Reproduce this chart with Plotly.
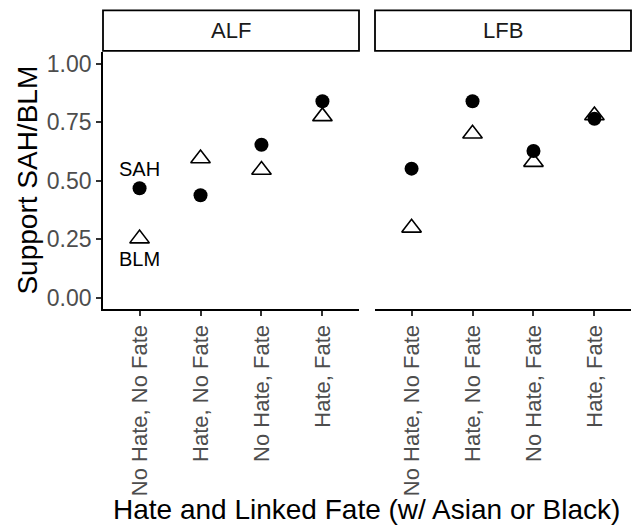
import plotly.graph_objects as go

categories = ["No Hate, No Fate", "Hate, No Fate", "No Hate, Fate", "Hate, Fate"]
panels = ["ALF", "LFB"]
sah_alf = [0.467, 0.437, 0.653, 0.839]
blm_alf = [0.252, 0.594, 0.545, 0.774]
sah_lfb = [0.551, 0.839, 0.626, 0.764]
blm_lfb = [0.298, 0.700, 0.579, 0.778]
y_ticks = [0.0, 0.25, 0.5, 0.75, 1.0]
y_ticklabels = ["0.00", "0.25", "0.50", "0.75", "1.00"]

W, H = 638, 528
FONT = "Liberation Sans, Arial, sans-serif"

def px_x(v):
    return v / W

def px_y(v):
    return 1 - v / H

fig = go.Figure()

for i, (sah, blm) in enumerate([(sah_alf, blm_alf), (sah_lfb, blm_lfb)]):
    xa = "x" if i == 0 else "x2"
    ya = "y" if i == 0 else "y2"
    fig.add_trace(go.Scatter(
        x=categories, y=blm, xaxis=xa, yaxis=ya, mode="markers",
        marker=dict(symbol="triangle-up-open", size=17, color="black",
                    line=dict(width=1.6, color="black")),
        showlegend=False, hoverinfo="skip"))
    fig.add_trace(go.Scatter(
        x=categories, y=sah, xaxis=xa, yaxis=ya, mode="markers",
        marker=dict(symbol="circle", size=14, color="black"),
        showlegend=False, hoverinfo="skip"))

x_left = (103, 359)
x_right = (375, 631)
y_top, y_bot = 51, 309.5

xaxis_common = dict(
    type="category", categoryorder="array", categoryarray=categories,
    range=[-0.6, 3.6], showline=True, linecolor="black", linewidth=1.7,
    ticks="outside", ticklen=5, tickwidth=1.5, tickcolor="#333333",
    tickangle=-90, tickfont=dict(family=FONT, size=22, color="#4D4D4D"),
    showgrid=False, zeroline=False, fixedrange=True,
)

fig.update_layout(
    width=W, height=H,
    margin=dict(l=0, r=0, t=0, b=0),
    paper_bgcolor="white", plot_bgcolor="white",
    font=dict(family=FONT),
    xaxis=dict(domain=[px_x(x_left[0]), px_x(x_left[1])], anchor="y", **xaxis_common),
    xaxis2=dict(domain=[px_x(x_right[0]), px_x(x_right[1])], anchor="y2", **xaxis_common),
    yaxis=dict(domain=[px_y(y_bot), px_y(y_top)], range=[-0.05, 1.05],
               tickvals=y_ticks, ticktext=y_ticklabels,
               showline=True, linecolor="black", linewidth=1.7,
               ticks="outside", ticklen=5, tickwidth=1.5, tickcolor="#333333",
               tickfont=dict(family=FONT, size=23, color="#4D4D4D"),
               showgrid=False, zeroline=False, anchor="x"),
    yaxis2=dict(domain=[px_y(y_bot), px_y(y_top)], range=[-0.05, 1.05],
                showticklabels=False, showline=False, ticks="",
                showgrid=False, zeroline=False, anchor="x2", matches="y"),
)

# facet strips
for name, (x0, x1) in zip(panels, [x_left, x_right]):
    fig.add_shape(type="rect", xref="paper", yref="paper",
                  x0=px_x(x0), x1=px_x(x1), y0=px_y(50), y1=px_y(9.5),
                  line=dict(color="black", width=1.8), fillcolor="white")
    fig.add_annotation(text=name, xref="paper", yref="paper",
                       x=px_x((x0 + x1) / 2), y=px_y(30), showarrow=False,
                       xanchor="center", yanchor="middle",
                       font=dict(family=FONT, size=22, color="#1A1A1A"))

# in-panel labels
fig.add_annotation(text="SAH", xref="x", yref="y", x=categories[0], y=0.55,
                   showarrow=False, font=dict(family=FONT, size=20, color="black"))
fig.add_annotation(text="BLM", xref="x", yref="y", x=categories[0], y=0.165,
                   showarrow=False, font=dict(family=FONT, size=20, color="black"))

# axis titles
fig.add_annotation(text="Hate and Linked Fate (w/ Asian or Black)", xref="paper", yref="paper",
                   x=px_x((x_left[0] + x_right[1]) / 2), y=px_y(510), showarrow=False,
                   xanchor="center", yanchor="middle",
                   font=dict(family=FONT, size=28, color="black"))
fig.add_annotation(text="Support SAH/BLM", xref="paper", yref="paper",
                   x=px_x(28), y=px_y((y_top + y_bot) / 2), showarrow=False, textangle=-90,
                   xanchor="center", yanchor="middle",
                   font=dict(family=FONT, size=28, color="black"))

fig.write_html("out.html")
